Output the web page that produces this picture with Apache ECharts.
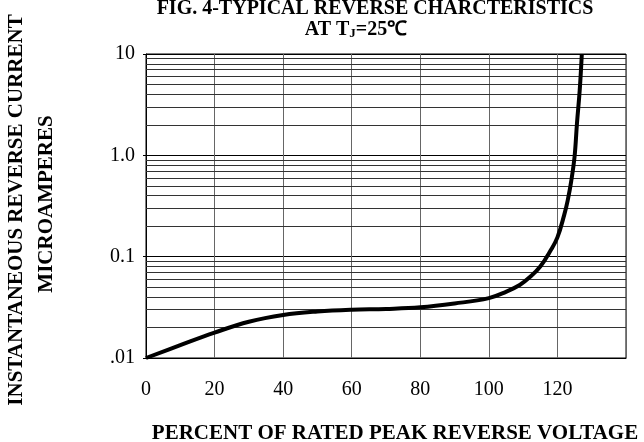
<!DOCTYPE html>
<html>
<head>
<meta charset="utf-8">
<script src="https://cdn.jsdelivr.net/npm/echarts@6/dist/echarts.min.js"></script>
<style>
  html, body { margin: 0; padding: 0; background: #fff; }
  #chart { width: 644px; height: 442px; }
</style>
</head>
<body>
<div id="chart"></div>
<script>
// percent of rated peak reverse voltage
var voltage = [0, 10, 20, 30, 40, 50, 60, 70, 80, 90, 100, 105, 109, 112, 115, 118, 120, 122, 123, 124, 125, 125.7, 126.5, 127.1];
// reverse current, microamperes
var current = [0.01, 0.0134, 0.0178, 0.0228, 0.0266, 0.0288, 0.0300, 0.0305, 0.0316, 0.0345, 0.039, 0.045, 0.0525, 0.063, 0.08, 0.115, 0.155, 0.26, 0.36, 0.55, 0.97, 2.07, 4.4, 9.8];
var xTicks = [0, 20, 40, 60, 80, 100, 120];
var yTickValues = [0.01, 0.1, 1, 10];
var yTickLabels = ['.01', '0.1', '1.0', '10'];
var minorMultipliers = [2, 3, 4, 5, 6, 7, 8, 9];
var decades = [0.01, 0.1, 1];

var minorLines = [];
decades.forEach(function (d) {
  minorMultipliers.forEach(function (m) {
    minorLines.push({ yAxis: +(d * m).toPrecision(3) });
  });
});

var font = '"Liberation Serif", "Times New Roman", serif';
var chart = echarts.init(document.getElementById('chart'));

chart.setOption({
  backgroundColor: '#fff',
  animation: false,
  grid: { left: 146, right: 18, top: 54, bottom: 84, show: true, borderColor: '#000', borderWidth: 1 },
  graphic: [
    {
      type: 'text', x: 375, y: 9,
      style: { text: 'FIG. 4-TYPICAL REVERSE CHARCTERISTICS', font: 'bold 20px ' + font, fill: '#000', textAlign: 'center', textVerticalAlign: 'middle' }
    },
    {
      type: 'text', x: 356, y: 30,
      style: {
        text: '{a|AT T}{s|J}{a|=25℃}',
        textAlign: 'center', textVerticalAlign: 'middle',
        rich: {
          a: { font: 'bold 20px ' + font, fill: '#000' },
          s: { font: 'bold 13px ' + font, fill: '#000', padding: [8, 0, 0, 0] }
        }
      }
    },
    {
      type: 'text', x: 17, y: 210, rotation: Math.PI / 2,
      style: { text: 'INSTANTANEOUS REVERSE CURRENT', font: 'bold 21px ' + font, fill: '#000', textAlign: 'center', textVerticalAlign: 'middle' }
    },
    {
      type: 'text', x: 47, y: 204, rotation: Math.PI / 2,
      style: { text: 'MICROAMPERES', font: 'bold 21px ' + font, fill: '#000', textAlign: 'center', textVerticalAlign: 'middle' }
    },
    {
      type: 'text', x: 395, y: 434,
      style: { text: 'PERCENT OF RATED PEAK REVERSE VOLTAGE', font: 'bold 21px ' + font, fill: '#000', textAlign: 'center', textVerticalAlign: 'middle' }
    }
  ],
  xAxis: {
    type: 'value', min: 0, max: 140, interval: 20,
    axisLine: { show: true, lineStyle: { color: '#000', width: 1 } },
    axisTick: { show: false },
    axisLabel: {
      margin: 22, fontFamily: font, fontSize: 20, color: '#000',
      formatter: function (v) { return xTicks.indexOf(v) >= 0 ? String(v) : ''; }
    },
    splitLine: { show: true, lineStyle: { color: '#666', width: 1 } }
  },
  yAxis: {
    type: 'log', logBase: 10, min: 0.01, max: 10,
    axisLine: { show: true, lineStyle: { color: '#000', width: 1 } },
    axisTick: { show: true, length: 3, lineStyle: { color: '#000' } },
    axisLabel: {
      margin: 11, fontFamily: font, fontSize: 20, color: '#000',
      formatter: function (v) {
        for (var i = 0; i < yTickValues.length; i++) {
          if (Math.abs(Math.log10(v) - Math.log10(yTickValues[i])) < 1e-6) return yTickLabels[i];
        }
        return '';
      }
    },
    splitLine: { show: true, lineStyle: { color: '#000', width: 1 } }
  },
  series: [{
    type: 'line',
    data: voltage.map(function (v, i) { return [v, current[i]]; }),
    smooth: 0.4,
    showSymbol: false,
    lineStyle: { color: '#000', width: 4 },
    z: 5,
    markLine: {
      silent: true, symbol: 'none', animation: false,
      label: { show: false },
      lineStyle: { color: '#333', width: 1, type: 'solid' },
      data: minorLines,
      z: 1
    }
  }]
});
</script>
</body>
</html>
